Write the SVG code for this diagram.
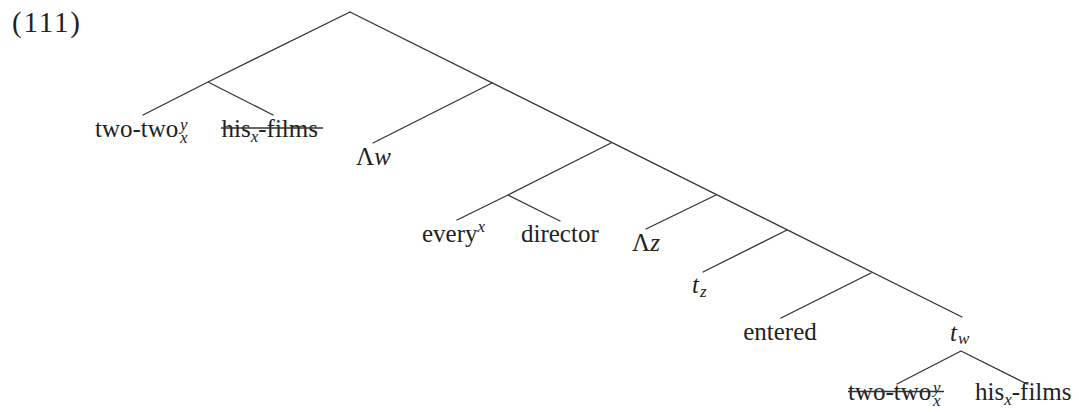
<svg xmlns="http://www.w3.org/2000/svg" width="1079" height="412" viewBox="0 0 1079 412">
<style>
.e{stroke:#333;stroke-width:1.3;fill:none;stroke-linecap:round}
.s{stroke:#333;stroke-width:1.3}
.t{font-family:'Liberation Serif','Times New Roman',serif;font-size:25px;fill:#222}
.i{font-style:italic}
.sm{font-size:17px}
</style>
<rect width="1079" height="412" fill="#fff"/>
<text class="t" x="12" y="32" font-family="Liberation Serif, serif" style="font-size:29px" textLength="68" lengthAdjust="spacing">(111)</text>
<g id="edges">
<path class="e" d="M350,12 L208,82 M208,82 L143,115 M208,82 L273,115"/>
<path class="e" d="M350,12 L962,317"/>
<path class="e" d="M492,83 L373,143"/>
<path class="e" d="M611,143 L508,195 M508,195 L457,220 M508,195 L560,221"/>
<path class="e" d="M716,195 L646,229"/>
<path class="e" d="M787,230 L703,272"/>
<path class="e" d="M871,273 L781,318"/>
<path class="e" d="M961,351 L897,384 M961,351 L1027,384"/>
</g>
<g font-family="Liberation Serif, serif">
<g id="n-twotwo1"><text class="t" x="95" y="137">two-two<tspan class="i sm" x="180" y="130">y</tspan><tspan class="i sm" x="180" y="142.5">x</tspan></text></g>
<g id="n-hisfilms1"><text class="t" x="221.5" y="137">his<tspan class="i sm" dy="5">x</tspan><tspan dy="-5">-films</tspan></text><line class="s" x1="221" y1="128" x2="323" y2="128"/></g>
<g id="n-lw"><text class="t" x="356" y="165">Λ<tspan class="i">w</tspan></text></g>
<g id="n-every"><text class="t" x="422" y="242">every<tspan class="i sm" dy="-10">x</tspan></text></g>
<g id="n-director"><text class="t" x="521" y="242">director</text></g>
<g id="n-lz"><text class="t" x="632" y="251">Λ<tspan class="i">z</tspan></text></g>
<g id="n-tz"><text class="t i" x="692" y="293">t<tspan class="sm" dx="1" dy="4">z</tspan></text></g>
<g id="n-entered"><text class="t" x="780" y="339.5" text-anchor="middle">entered</text></g>
<g id="n-tw"><text class="t i" x="950" y="340.5">t<tspan class="sm" dx="1" dy="3">w</tspan></text></g>
<g id="n-twotwo2"><text class="t" x="848" y="400">two-two<tspan class="i sm" x="933" y="393">y</tspan><tspan class="i sm" x="933" y="405.5">x</tspan></text><line class="s" x1="848" y1="391.5" x2="944" y2="391.5"/></g>
<g id="n-hisfilms2"><text class="t" x="975" y="400">his<tspan class="i sm" dy="5">x</tspan><tspan dy="-5">-films</tspan></text></g>
</g>
</svg>
